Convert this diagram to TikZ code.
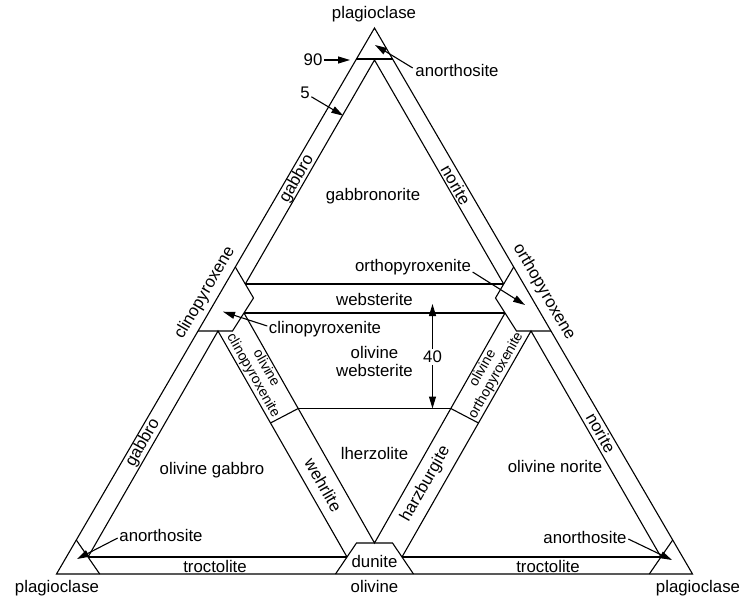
\documentclass[tikz,border=0pt]{standalone}
\usepackage{fontspec}
\setmainfont{Liberation Sans}
\usetikzlibrary{arrows.meta}
\begin{document}
\begin{tikzpicture}[x=1bp,y=-1bp,
  ln/.style={line width=1.1bp, line join=miter},
  lbl/.style={font=\fontsize{16.8bp}{19bp}\selectfont, inner sep=1.5bp, align=center},
  sml/.style={font=\fontsize{14bp}{15bp}\selectfont, inner sep=1bp, align=center},
  arr/.style={line width=1.1bp, -{Triangle[length=12bp,width=7bp]}}]
\useasboundingbox (0,0) rectangle (743,599);
% outer triangle
\coordinate (A) at (374.5,28);
\coordinate (BL) at (56.5,574);
\coordinate (BR) at (692.5,574);
\coordinate (H1) at (356.45,59);
\coordinate (H2) at (392.55,59);
\coordinate (T) at (374.5,60);
% clinopyroxene / orthopyroxene corners
\coordinate (P1) at (235.3,267);
\coordinate (P2) at (253.5,298);
\coordinate (P3) at (232.5,331);
\coordinate (P4) at (198,331);
\coordinate (Q1) at (513.7,267);
\coordinate (Q2) at (495.5,298);
\coordinate (Q3) at (516.5,331);
\coordinate (Q4) at (551,331);
\coordinate (W1) at (245.3,284);
\coordinate (W2) at (503.7,284);
\coordinate (C1) at (244,313);
\coordinate (C2) at (505,313);
\coordinate (D0) at (374.5,543);
% dunite
\coordinate (DA) at (356.5,543);
\coordinate (DB) at (392.5,543);
\coordinate (DC) at (413.5,574);
\coordinate (DD) at (335.5,574);
% lower triangles
\coordinate (L1) at (218,331);
\coordinate (R1) at (531,331);
\coordinate (L2) at (347,557);
\coordinate (R2) at (402,557);
\coordinate (G2) at (88,557);
\coordinate (N2) at (661,557);
\coordinate (K1) at (76.3,540);
\coordinate (K2) at (99.7,574);
\coordinate (K3) at (672.7,540);
\coordinate (K4) at (649.3,574);
\coordinate (O1) at (298.2,408.5);
\coordinate (O2) at (450.8,408.5);
\coordinate (X1) at (270.5,423);
\coordinate (X2) at (478.5,423);

\draw[ln] (A) -- (BL) -- (BR) -- cycle;
\draw[ln] (H1) -- (H2);
\draw[ln] (W1) -- (T) -- (W2);
\draw[ln] (P1) -- (P2) -- (P3) -- (P4);
\draw[ln] (Q1) -- (Q2) -- (Q3) -- (Q4);
\draw[ln] (W1) -- (W2);
\draw[ln] (C1) -- (C2);
\draw[ln] (C1) -- (D0) -- (C2);
\draw[ln] (DD) -- (DA) -- (DB) -- (DC);
\draw[ln] (G2) -- (L1) -- (L2);
\draw[ln] (N2) -- (R1) -- (R2);
\draw[ln] (K1) -- (K2);
\draw[ln] (K3) -- (K4);
\draw[ln] (G2) -- (L2);
\draw[ln] (N2) -- (R2);
\draw[ln] (O1) -- (O2);
\draw[ln] (X1) -- (O1);
\draw[ln] (X2) -- (O2);

% corner labels
\node[lbl] (plTop) at (374,14) {plagioclase};
\node[lbl] (plL) at (57,588) {plagioclase};
\node[lbl] (plR) at (698,588) {plagioclase};
\node[lbl] (olB) at (374.5,586) {olivine};
\node[lbl, rotate=59.8] (cpx) at (205,293) {clinopyroxene};
\node[lbl, rotate=-59.8] (opx) at (544,292) {orthopyroxene};

% top triangle
\node[lbl] (l90) at (313,60) {90};
\coordinate (t90) at (350,60);
\draw[arr] (l90) -- (t90);
\node[lbl] (l5) at (305,93) {5};
\coordinate (t5) at (343.3,115.7);
\draw[arr] (l5) -- (t5);
\node[lbl] (anoT) at (457,70) {anorthosite};
\coordinate (tanoT) at (375,45);
\draw[arr] ([xshift=-1bp,yshift=2bp]anoT.west) -- (tanoT);
\node[lbl, rotate=59.8] (gabT) at (297,179) {gabbro};
\node[lbl, rotate=-59.8] (norT) at (456,185) {norite};
\node[lbl] (gn) at (373,196) {gabbronorite};
\node[lbl] (orx) at (413,267) {orthopyroxenite};
\coordinate (torx) at (525,305);
\draw[arr] ([yshift=-5bp]orx.east) -- (torx);
\node[lbl] (web) at (374.5,299) {websterite};
\node[lbl] (crx) at (325,329) {clinopyroxenite};
\coordinate (tcrx) at (223,311.7);
\draw[arr] ([yshift=3bp]crx.west) -- (tcrx);

% central triangle
\node[lbl] (olweb) at (374.5,361.5) {olivine\\[-1bp]websterite};
\node[lbl, fill=white, inner sep=2bp] (l40) at (432.5,357) {40};
\coordinate (t40a) at (432.5,304);
\coordinate (t40b) at (432.5,408.5);
\draw[arr] (l40) -- (t40a);
\draw[arr] (l40) -- (t40b);
\node[sml, rotate=-60.4] (olcpx) at (259.5,372) {olivine\\clinopyroxenite};
\node[sml, rotate=60.4] (olopx) at (489.5,372) {olivine\\orthopyroxenite};
\node[lbl] (lhz) at (374.5,453) {lherzolite};
\node[lbl, rotate=-60.4] (weh) at (323.5,485) {wehrlite};
\node[lbl, rotate=60.4] (hzb) at (425.5,484) {harzburgite};
\node[lbl] (dun) at (374.5,561) {dunite};

% lower triangles
\node[lbl, rotate=60.3] (gabL) at (143,443) {gabbro};
\node[lbl, rotate=-60.3] (norR) at (601,433) {norite};
\node[lbl] (olgab) at (212,470) {olivine gabbro};
\node[lbl] (olnor) at (555,466) {olivine norite};
\node[lbl] (anoL) at (161,535) {anorthosite};
\coordinate (tanoL) at (77,559);
\draw[arr] ([yshift=-3bp]anoL.west) -- (tanoL);
\node[lbl] (anoR) at (585,537) {anorthosite};
\coordinate (tanoR) at (672,560);
\draw[arr] ([yshift=-2bp]anoR.east) -- (tanoR);
\node[lbl] (trL) at (215,566) {troctolite};
\node[lbl] (trR) at (548,566) {troctolite};
\end{tikzpicture}
\end{document}
